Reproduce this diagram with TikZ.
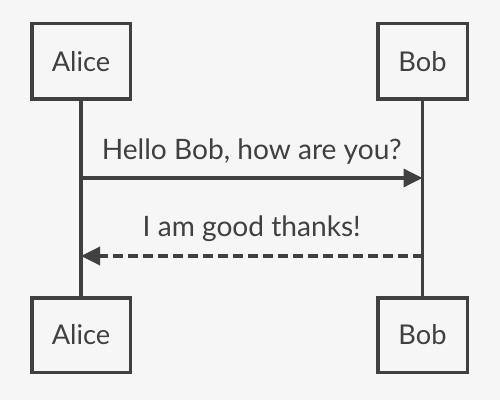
\documentclass[tikz,border=0pt]{standalone}
\usepackage{fontspec}
\setmainfont{Lato}
\usetikzlibrary{arrows.meta}

\definecolor{ink}{HTML}{404040}
\definecolor{paper}{HTML}{F6F6F6}

\tikzset{
  actor/.style={draw=ink, line width=0.07cm, text=ink, inner sep=0pt,
    font=\fontsize{15.5}{18}\selectfont},
  lifeline/.style={draw=ink, line width=0.07cm},
  msg/.style={draw=ink, line width=0.07cm,
    -{Triangle[length=0.38cm, width=0.36cm]}},
  reply/.style={msg, dash pattern=on 0.2cm off 0.1cm},
  msgtext/.style={text=ink, anchor=base, font=\fontsize{16}{19}\selectfont}
}

\begin{document}
\begin{tikzpicture}

% Background
\fill[paper] (0, 0) rectangle (10, 8);
\useasboundingbox (0, 0) rectangle (10, 8);

% Actors
\node[actor, minimum width=1.97cm, minimum height=1.51cm] (aliceTop) at (1.62, 6.77) {Alice};
\node[actor, minimum width=1.79cm, minimum height=1.51cm] (bobTop) at (8.45, 6.77) {Bob};

\node[actor, minimum width=1.97cm, minimum height=1.49cm] (aliceBot) at (1.62, 1.30) {Alice};
\node[actor, minimum width=1.79cm, minimum height=1.49cm] (bobBot) at (8.45, 1.30) {Bob};

% Lifelines
\draw[lifeline] (aliceTop) -- (aliceBot);
\draw[lifeline] (bobTop) -- (bobBot);

% Messages
\coordinate (helloA) at (aliceTop |- 0, 4.44);
\coordinate (helloB) at (bobTop |- 0, 4.44);
\draw[msg] (helloA) -- (helloB)
  node[msgtext, midway, yshift=0.36cm] (hello) {Hello Bob, how are you?};

\coordinate (thanksB) at (bobTop |- 0, 2.88);
\coordinate (thanksA) at (aliceTop |- 0, 2.88);
\draw[reply] (thanksB) -- (thanksA)
  node[msgtext, midway, yshift=0.38cm] (thanks) {I am good thanks!};

\end{tikzpicture}
\end{document}
